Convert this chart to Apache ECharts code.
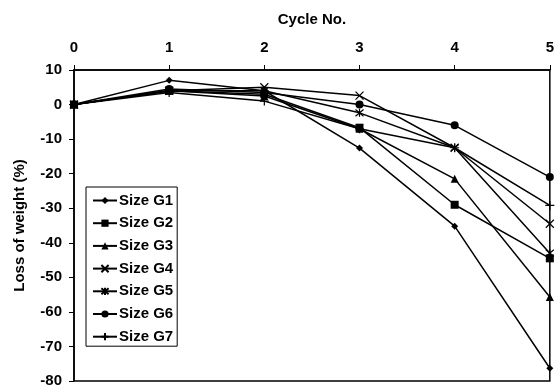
<!DOCTYPE html>
<html><head><meta charset="utf-8">
<script src="https://cdn.jsdelivr.net/npm/echarts@6/dist/echarts.min.js"></script>
<style>html,body{margin:0;padding:0;background:#fff}#c{width:557px;height:389px}</style>
</head><body><div id="c"></div>
<script>
var cycles = [0, 1, 2, 3, 4, 5];
var seriesNames = ['Size G1','Size G2','Size G3','Size G4','Size G5','Size G6','Size G7'];
var g1 = [0, 7, 4, -12.6, -35.2, -76.3];
var g2 = [0, 4, 3, -6.7, -29, -44.5];
var g3 = [0, 4, 2.5, -7, -21.5, -55.7];
var g4 = [0, 4, 5, 2.6, -12.5, -34.5];
var g5 = [0, 4, 4, -2.4, -12.5, -43];
var g6 = [0, 4.5, 3.5, 0, -6, -21];
var g7 = [0, 3.5, 1, -7, -12.5, -29.2];
var yTicks = [10, 0, -10, -20, -30, -40, -50, -60, -70, -80];

var allData = [g1, g2, g3, g4, g5, g6, g7];
var symbols = ['diamond', 'rect', 'triangle',
  'path://M0 0L10 10M10 0L0 10',
  'path://M0 0L10 10M10 0L0 10M5 -1L5 11',
  'circle',
  'path://M5 0L5 10M0 5L10 5'];
var sizes = [7, 8, 8, 8, 8, 8, 9];
var font = 'Liberation Sans, Arial, sans-serif';

var series = allData.map(function (d, i) {
  var isPath = symbols[i].indexOf('path://') === 0;
  return {
    name: seriesNames[i],
    type: 'line',
    data: d.map(function (v, j) { return [cycles[j], v]; }),
    symbol: symbols[i],
    symbolSize: sizes[i],
    showAllSymbol: true,
    lineStyle: { color: '#000', width: 1.5 },
    itemStyle: isPath ? { color: 'rgba(0,0,0,0)', borderColor: '#000', borderWidth: 1.2 } : { color: '#000', borderWidth: 0 },
    emphasis: { disabled: true },
    animation: false,
    clip: false
  };
});

var chart = echarts.init(document.getElementById('c'), null, { renderer: 'canvas' });
chart.setOption({
  backgroundColor: '#fff',
  animation: false,
  grid: { left: 74, right: 4, top: 70, bottom: 8, show: true, borderColor: '#000', borderWidth: 1.5, backgroundColor: 'transparent' },
  legend: {
    orient: 'vertical',
    left: 86, top: 187,
    data: seriesNames,
    backgroundColor: '#fff',
    borderColor: '#000',
    borderWidth: 1,
    padding: [6, 4, 2, 6],
    itemWidth: 24, itemHeight: 9, itemGap: 7.7,
    textStyle: { fontFamily: font, fontWeight: 'bold', fontSize: 15, lineHeight: 15, color: '#000', padding: [0, 0, 0, -3] }
  },
  xAxis: {
    type: 'value', position: 'top', min: 0, max: 5, interval: 1,
    name: 'Cycle No.', nameLocation: 'middle', nameGap: 43,
    nameTextStyle: { fontFamily: font, fontWeight: 'bold', fontSize: 15, color: '#000' },
    axisLine: { show: true, onZero: false, lineStyle: { color: '#000', width: 1.5 } },
    axisTick: { show: true, length: 5, lineStyle: { color: '#000', width: 1 } },
    axisLabel: { fontFamily: font, fontWeight: 'bold', fontSize: 15, color: '#000', margin: 15 },
    splitLine: { show: false }
  },
  yAxis: {
    type: 'value', min: -80, max: 10, interval: 10,
    name: 'Loss of weight (%)', nameLocation: 'middle', nameGap: 47, nameRotate: 90,
    nameTextStyle: { fontFamily: font, fontWeight: 'bold', fontSize: 15, color: '#000' },
    axisLine: { show: true, onZero: false, lineStyle: { color: '#000', width: 1.5 } },
    axisTick: { show: true, length: 5, lineStyle: { color: '#000', width: 1 } },
    axisLabel: { fontFamily: font, fontWeight: 'bold', fontSize: 15, color: '#000', margin: 12 },
    splitLine: { show: false }
  },
  series: series
});
</script></body></html>
